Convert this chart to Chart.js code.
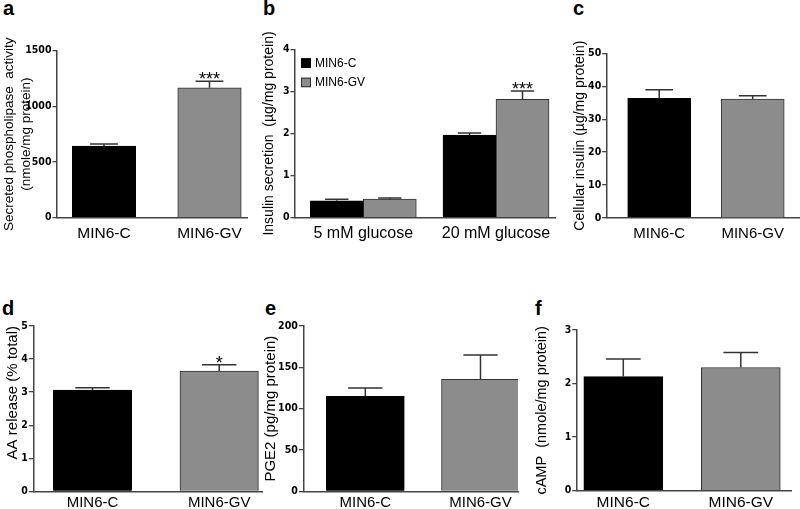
<!DOCTYPE html>
<html>
<head>
<meta charset="utf-8">
<script src="https://cdn.jsdelivr.net/npm/chart.js@4"></script>
<style>
  body { margin: 0; background: #fff; width: 800px; height: 509px; position: relative; overflow: hidden; }
  canvas { position: absolute; }
  .tag { position: absolute; font: bold 20px 'Liberation Sans', Arial, sans-serif; line-height: 20px; color: #000; }
</style>
</head>
<body>
<span class="tag" style="left:3px;top:-2px">a</span>
<span class="tag" style="left:263px;top:-2px">b</span>
<span class="tag" style="left:573px;top:-2px">c</span>
<span class="tag" style="left:2px;top:298px">d</span>
<span class="tag" style="left:265px;top:298px">e</span>
<span class="tag" style="left:535px;top:298px">f</span>

<canvas id="panelA" width="252" height="250" style="left:0;top:0"></canvas>
<canvas id="panelB" width="299" height="250" style="left:258px;top:0"></canvas>
<canvas id="panelC" width="235" height="250" style="left:565px;top:0"></canvas>
<canvas id="panelD" width="266" height="259" style="left:0;top:250px"></canvas>
<canvas id="panelE" width="264" height="259" style="left:258px;top:250px"></canvas>
<canvas id="panelF" width="272" height="259" style="left:528px;top:250px"></canvas>

<script>
// Cell lines and conditions
const cellLines = ['MIN6-C', 'MIN6-GV'];
const glucoseLevels = ['5 mM glucose', '20 mM glucose'];

// a - secreted phospholipase activity
const plaActivity = [644, 1167];
const plaError = [18, 59];
const plaStars = ['', '***'];
const plaTicks = [0, 500, 1000, 1500];

// b - insulin secretion
const insulinC = [0.40, 1.96];
const insulinCError = [0.04, 0.05];
const insulinGV = [0.44, 2.81];
const insulinGVError = [0.03, 0.20];
const insulinGVStars = ['', '***'];
const insulinTicks = [0, 1, 2, 3, 4];

// c - cellular insulin
const cellInsulin = [36.3, 36.1];
const cellInsulinError = [2.6, 1.0];
const cellInsulinTicks = [0, 10, 20, 30, 40, 50];

// d - AA release
const aaRelease = [3.06, 3.64];
const aaReleaseError = [0.07, 0.19];
const aaStars = ['', '*'];
const aaTicks = [0, 1, 2, 3, 4, 5];

// e - PGE2
const pge2 = [115, 135.5];
const pge2Error = [10, 29.5];
const pge2Ticks = [0, 50, 100, 150, 200];

// f - cAMP
const camp = [2.13, 2.30];
const campError = [0.33, 0.28];
const campTicks = [0, 1, 2, 3];

const BLACK = '#000000';
const GRAY = '#8c8c8c';
const AXIS = '#444444';
const TICK_FONT = "'Liberation Sans Narrow', 'DejaVu Sans Condensed', sans-serif";
const TEXT_FONT = "'Liberation Sans', Arial, sans-serif";

const toPoints = values => values.map((v, i) => ({ x: i, y: v }));

// error whiskers (upper only) and significance stars
const errorBars = {
  id: 'errorBars',
  afterDatasetsDraw(chart) {
    const { ctx } = chart;
    const y = chart.scales.y;
    chart.data.datasets.forEach((ds, di) => {
      const meta = chart.getDatasetMeta(di);
      meta.data.forEach((bar, i) => {
        const top = y.getPixelForValue(ds.data[i].y + ds.errors[i]);
        const half = bar.width * 0.22;
        ctx.save();
        ctx.strokeStyle = '#333';
        ctx.lineWidth = 1.5;
        ctx.beginPath();
        ctx.moveTo(bar.x, bar.y);
        ctx.lineTo(bar.x, top);
        ctx.moveTo(bar.x - half, top);
        ctx.lineTo(bar.x + half, top);
        ctx.stroke();
        if (ds.stars && ds.stars[i]) {
          ctx.fillStyle = '#000';
          ctx.font = '18px ' + TEXT_FONT;
          ctx.textAlign = 'center';
          ctx.textBaseline = 'alphabetic';
          ctx.fillText(ds.stars[i], bar.x, top + 4);
        }
        ctx.restore();
      });
    });
  }
};

// small legend inside the plot area (panel b)
const innerLegend = {
  id: 'innerLegend',
  afterDraw(chart) {
    const { ctx, chartArea } = chart;
    chart.data.datasets.forEach((ds, i) => {
      const x = chartArea.left + 6;
      const y = chartArea.top + 9 + i * 19.4;
      ctx.save();
      ctx.fillStyle = ds.backgroundColor;
      ctx.fillRect(x, y, 10, 9.5);
      ctx.strokeStyle = ds.borderColor;
      ctx.lineWidth = 1;
      ctx.strokeRect(x + 0.5, y + 0.5, 9, 8.5);
      ctx.fillStyle = '#000';
      ctx.font = '12px ' + TEXT_FONT;
      ctx.textBaseline = 'middle';
      ctx.fillText(ds.label, x + 14, y + 5);
      ctx.restore();
    });
  }
};

function makePanel(id, p) {
  return new Chart(document.getElementById(id), {
    type: 'bar',
    data: { datasets: p.datasets },
    options: {
      responsive: false,
      animation: false,
      layout: { padding: p.padding },
      plugins: { legend: { display: false }, tooltip: { enabled: false } },
      datasets: { bar: { barThickness: p.barWidth, borderWidth: 1 } },
      scales: {
        x: {
          type: 'linear',
          offset: false,
          min: p.xRange[0],
          max: p.xRange[1],
          afterBuildTicks: s => { s.ticks = p.labels.map((_, i) => ({ value: i })); },
          afterFit: s => { s.height = p.xHeight; },
          grid: { display: false, drawTicks: false, offset: false },
          border: { color: AXIS, width: 1.5 },
          ticks: {
            autoSkip: false,
            maxRotation: 0,
            padding: p.labelPad,
            color: '#000',
            font: { family: TEXT_FONT, size: p.labelSize },
            callback: (v, i) => p.labels[i]
          }
        },
        y: {
          min: p.ticks[0],
          max: p.ticks[p.ticks.length - 1],
          afterBuildTicks: s => { s.ticks = p.ticks.map(v => ({ value: v })); },
          afterFit: s => { s.width = p.yWidth; },
          grid: { drawOnChartArea: false, drawTicks: true, tickLength: 4.5, color: AXIS, lineWidth: 1.3 },
          border: { color: AXIS, width: 1.5 },
          ticks: {
            padding: 1,
            color: '#000',
            font: { family: TICK_FONT, size: 10.5, weight: 'bold' },
            callback: v => String(v)
          },
          title: {
            display: true,
            text: p.title,
            align: p.titleAlign || 'center',
            color: '#000',
            padding: { top: p.titlePad, bottom: 0 },
            font: { family: TEXT_FONT, size: p.titleSize, lineHeight: p.titleLine }
          }
        }
      }
    },
    plugins: p.legend ? [errorBars, innerLegend] : [errorBars]
  });
}

function pairDataset(values, errors, stars) {
  return [{
    data: toPoints(values),
    errors: errors,
    stars: stars,
    backgroundColor: [BLACK, GRAY],
    borderColor: [BLACK, '#333']
  }];
}

makePanel('panelA', {
  datasets: pairDataset(plaActivity, plaError, plaStars),
  labels: cellLines, ticks: plaTicks,
  title: ['Secreted phospholipase  activity', '(nmole/mg protein)'],
  titleSize: 13.5, titleLine: 17 / 13.5, titlePad: 0.5,
  padding: { left: 0, right: 5, top: 50.7, bottom: 0 },
  yWidth: 57, xHeight: 32.3, xRange: [-0.4455, 1.3555],
  barWidth: 63.5, labelSize: 15.5, labelPad: 6.4
});

makePanel('panelB', {
  datasets: [
    { label: 'MIN6-C', data: toPoints(insulinC), errors: insulinCError, backgroundColor: BLACK, borderColor: BLACK },
    { label: 'MIN6-GV', data: toPoints(insulinGV), errors: insulinGVError, stars: insulinGVStars, backgroundColor: GRAY, borderColor: '#333' }
  ],
  legend: true,
  labels: glucoseLevels, ticks: insulinTicks,
  title: 'Insulin secretion  (\u00b5g/mg protein)',
  titleSize: 14, titleLine: 1.2, titlePad: 2.6,
  padding: { left: 0, right: 2, top: 49.3, bottom: 0 },
  yWidth: 37, xHeight: 32.3, xRange: [-0.5147, 1.4446],
  barWidth: 53, labelSize: 16, labelPad: 6.2
});

makePanel('panelC', {
  datasets: pairDataset(cellInsulin, cellInsulinError, null),
  labels: cellLines, ticks: cellInsulinTicks,
  title: 'Cellular insulin (\u00b5g/mg protein)',
  titleSize: 14, titleLine: 1.2, titlePad: 6.6,
  padding: { left: 0, right: 1, top: 53.3, bottom: 0 },
  yWidth: 41.7, xHeight: 32, xRange: [-0.5615, 1.4952],
  barWidth: 63, labelSize: 15, labelPad: 6.5
});

makePanel('panelD', {
  datasets: pairDataset(aaRelease, aaReleaseError, aaStars),
  labels: cellLines, ticks: aaTicks,
  title: 'AA release (% total)', titleAlign: 'end',
  titleSize: 15, titleLine: 1.2, titlePad: 3.5,
  padding: { left: 0, right: 4, top: 76, bottom: 0 },
  yWidth: 33.3, xHeight: 17.7, xRange: [-0.4672, 1.3378],
  barWidth: 78.4, labelSize: 15, labelPad: 2.5
});

makePanel('panelE', {
  datasets: pairDataset(pge2, pge2Error, null),
  labels: cellLines, ticks: pge2Ticks,
  title: 'PGE2 (pg/mg protein)',
  titleSize: 15, titleLine: 1.2, titlePad: 3.5,
  padding: { left: 0, right: 4, top: 76, bottom: 0 },
  yWidth: 45.3, xHeight: 17.7, xRange: [-0.5382, 1.3255],
  barWidth: 78, labelSize: 15, labelPad: 2.5
});

makePanel('panelF', {
  datasets: pairDataset(camp, campError, null),
  labels: cellLines, ticks: campTicks,
  title: 'cAMP  (nmole/mg protein)',
  titleSize: 14.5, titleLine: 1.2, titlePad: 4.8,
  padding: { left: 0, right: 8.3, top: 80, bottom: 0 },
  yWidth: 48.7, xHeight: 18.3, xRange: [-0.3966, 1.4332],
  barWidth: 79, labelSize: 15.5, labelPad: 3
});
</script>
</body>
</html>
